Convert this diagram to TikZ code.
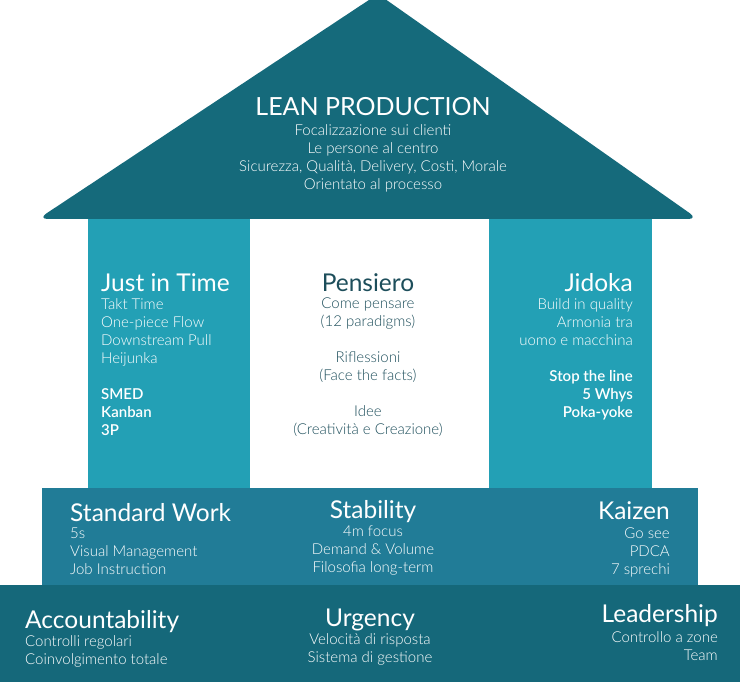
\documentclass[tikz,border=0pt]{standalone}
\usepackage{fontspec}
\setmainfont{Lato}[UprightFont={* Light},BoldFont={* Semibold}]
\newfontfamily\headfont{Lato}
\usetikzlibrary{positioning}
\definecolor{roofcol}{HTML}{156A7B}
\definecolor{pillarcol}{HTML}{23A0B5}
\definecolor{bandcol}{HTML}{217C97}
\definecolor{basecol}{HTML}{15687A}
\definecolor{darktext}{HTML}{1D4E5B}
\begin{document}
\begin{tikzpicture}
    [x=1pt,y=-1pt,
     head/.style={inner sep=0pt,text=white,font=\headfont\fontsize{24.5}{28}\selectfont},
     items/.style={inner sep=0pt,text=white,font=\fontsize{15}{18}\selectfont},
     darkhead/.style={head,text=darktext},
     darkitems/.style={items,text=darktext}]
    \useasboundingbox (0,0) rectangle (740,682);
    \fill[white] (0,0) rectangle (740,682);

    \fill[pillarcol] (88,215) rectangle (250,490);
    \fill[pillarcol] (489,215) rectangle (652,490);
    \fill[roofcol,rounded corners=10pt] (378,-6) -- (698,219) -- (38,219) -- cycle;
    \fill[bandcol] (42,488) rectangle (698,586);
    \fill[basecol] (0,585) rectangle (740,682);

    \node[head,anchor=base,font=\headfont\fontsize{25}{30}\selectfont] (lean) at (373,116) {LEAN PRODUCTION};
    \node[items,anchor=north,align=center] (leanlist) at (373,124)
      {Focalizzazione sui clienti\\Le persone al centro\\Sicurezza, Qualità, Delivery, Costi, Morale\\Orientato al processo};

    \node[head,anchor=base west] (jit) at (101,291) {Just in Time};
    \node[items,anchor=north west,align=left] (jitlist) at (101,298)
      {Takt Time\\One-piece Flow\\Downstream Pull\\Heijunka\\[18pt]\textbf{SMED}\\\textbf{Kanban}\\\textbf{3P}};

    \node[darkhead,anchor=base] (pens) at (368,291) {Pensiero};
    \node[darkitems,anchor=north,align=center] (penslist) at (368,298)
      {Come pensare\\(12 paradigms)\\[18pt]Riflessioni\\(Face the facts)\\[18pt]Idee\\(Creatività e Creazione)};

    \node[head,anchor=base east] (jid) at (633,291) {Jidoka};
    \node[items,anchor=north east,align=right] (jidlist) at (633,298)
      {Build in quality\\Armonia tra\\uomo e macchina\\[18pt]\textbf{Stop the line}\\\textbf{5 Whys}\\\textbf{Poka-yoke}};

    \node[head,anchor=base west] (std) at (70,521) {Standard Work};
    \node[items,anchor=north west,align=left] (stdlist) at (70,528)
      {5s\\Visual Management\\Job Instruction};

    \node[head,anchor=base] (stab) at (373,518) {Stability};
    \node[items,anchor=north,align=center] (stablist) at (373,526)
      {4m focus\\Demand \& Volume\\Filosofia long-term};

    \node[head,anchor=base east] (kai) at (670,519) {Kaizen};
    \node[items,anchor=north east,align=right] (kailist) at (670,528)
      {Go see\\PDCA\\7 sprechi};

    \node[head,anchor=base west] (acc) at (25,628) {Accountability};
    \node[items,anchor=north west,align=left] (acclist) at (25,635)
      {Controlli regolari\\Coinvolgimento totale};

    \node[head,anchor=base] (urg) at (370,626) {Urgency};
    \node[items,anchor=north,align=center] (urglist) at (370,633)
      {Velocità di risposta\\Sistema di gestione};

    \node[head,anchor=base east] (lead) at (718,622) {Leadership};
    \node[items,anchor=north east,align=right] (leadlist) at (718,631)
      {Controllo a zone\\Team};
\end{tikzpicture}
\end{document}
